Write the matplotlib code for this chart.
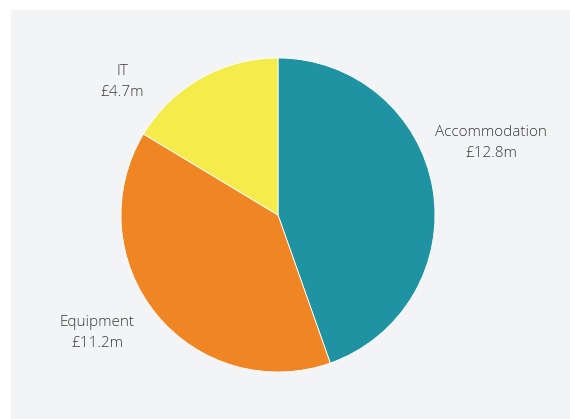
import matplotlib.pyplot as plt
from matplotlib.patches import Rectangle

# spend by category, in £m
categories = ['Accommodation', 'Equipment', 'IT']
values = [12.8, 11.2, 4.7]
colors = ['#2093a3', '#f08523', '#f4ec4a']

W, H = 570, 419
fig = plt.figure(figsize=(W / 100, H / 100), dpi=100)
fig.patch.set_facecolor('white')
# light grey panel behind the chart
fig.patches.append(Rectangle((11 / W, 0), (W - 11) / W, (H - 10) / H,
                             transform=fig.transFigure, facecolor='#f3f4f6',
                             edgecolor='none', zorder=-1))

# axes in pixel units so the pie can be placed directly
ax = fig.add_axes([0, 0, 1, 1])
ax.set_facecolor('none')
ax.pie(values, colors=colors, startangle=90, counterclock=False,
       center=(278, H - 215), radius=157,
       wedgeprops=dict(edgecolor='white', linewidth=0.6))
ax.set_xlim(0, W)
ax.set_ylim(0, H)
ax.set_aspect('equal')
ax.axis('off')

label_pos = [(491, H - 143), (97, H - 333), (122, H - 82)]
for name, val, (x, y) in zip(categories, values, label_pos):
    ax.text(x, y, f'{name}\n£{val}m', ha='center', va='center',
            fontsize=11, color='#3c3c3c', family='Open Sans',
            fontweight='light', linespacing=1.6)

fig.savefig('out.png', dpi=100)
